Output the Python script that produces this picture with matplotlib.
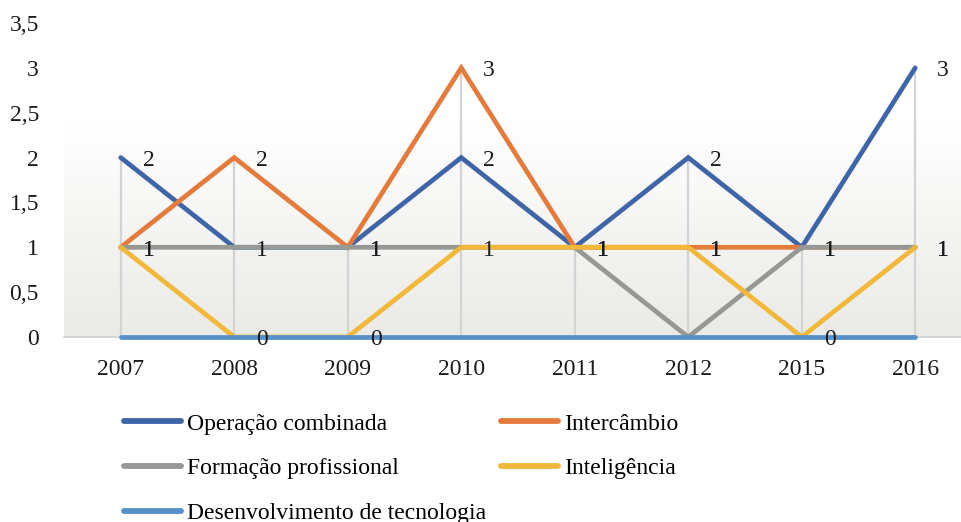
import numpy as np
import matplotlib
matplotlib.use("Agg")
import matplotlib.pyplot as pyplot
from matplotlib.lines import Line2D
from matplotlib.colors import LinearSegmentedColormap

pyplot.rcParams["font.family"] = ["Liberation Serif", "DejaVu Serif"]

# dados
anos = ["2007", "2008", "2009", "2010", "2011", "2012", "2015", "2016"]
operacao = [2, 1, 1, 2, 1, 2, 1, 3]
intercambio = [1, 2, 1, 3, 1, 1, 1, 1]
formacao = [1, 1, 1, 1, 1, 0, 1, 1]
inteligencia = [1, 0, 0, 1, 1, 1, 0, 1]
desenvolvimento = [0, 0, 0, 0, 0, 0, 0, 0]

series = [
    ("Operação combinada", operacao, "#3F65A9", True),
    ("Intercâmbio", intercambio, "#E57B3B", True),
    ("Formação profissional", formacao, "#959895", False),
    ("Inteligência", inteligencia, "#F2B83A", True),
    ("Desenvolvimento de tecnologia", desenvolvimento, "#5591C8", False),
]

FS = 17

fig = pyplot.figure(figsize=(9.61, 5.22), dpi=100)
ax = fig.add_axes([64 / 961, 1 - 337 / 522, 908 / 961, 314 / 522])

x = np.arange(len(anos))
ax.set_xlim(-0.5, len(anos) - 0.5)
ax.set_ylim(0, 3.5)

# fundo em degrade (area de plotagem)
cmap = LinearSegmentedColormap.from_list("fundo", ["#EAEAE7", "#FFFFFF"])
grad = np.linspace(0, 1, 256).reshape(-1, 1)
ax.imshow(grad, extent=[-0.5, len(anos) - 0.5, 0, 2.4], aspect="auto",
          cmap=cmap, origin="lower", zorder=0)

# linhas de queda
maximos = np.max([s[1] for s in series], axis=0)
ax.vlines(x, 0, maximos, color="#D3D3D3", linewidth=1.6, zorder=1)

handles = {}
for nome, vals, cor, rotulo in series:
    ln, = ax.plot(x, vals, color=cor, linewidth=3.4, solid_capstyle="round",
                  solid_joinstyle="miter", zorder=2, label=nome, clip_on=False)
    handles[nome] = ln
    if rotulo:
        for xi, v in zip(x, vals):
            ax.annotate(str(v), (xi, v), xytext=(20, -2), textcoords="offset points",
                        ha="center", va="center", fontsize=FS, color="#1a1a1a", zorder=5)

for s in ["top", "right", "left"]:
    ax.spines[s].set_visible(False)
ax.spines["bottom"].set_color("#D0D0D0")
ax.spines["bottom"].set_linewidth(1.2)
ax.spines["bottom"].set_zorder(1.5)

ax.set_xticks(x)
ax.set_xticklabels(anos)
yt = [0, 0.5, 1, 1.5, 2, 2.5, 3, 3.5]
ax.set_yticks(yt)
ax.set_yticklabels([("%g" % v).replace(".", ",") for v in yt])
ax.tick_params(axis="both", length=0, labelsize=FS, colors="#1a1a1a")
ax.tick_params(axis="y", pad=18)
ax.tick_params(axis="x", pad=16)

ordem = ["Operação combinada", "Formação profissional", "Desenvolvimento de tecnologia",
         "Intercâmbio", "Inteligência"]
leg_handles = [Line2D([0], [0], color=handles[n].get_color(), linewidth=4.2,
                      solid_capstyle="round") for n in ordem]
fig.legend(leg_handles, ordem, loc="upper left", bbox_to_anchor=(124 / 961, 1 - 413 / 522),
           ncol=2, frameon=False, fontsize=FS, handlelength=2.4, handletextpad=0.25,
           columnspacing=0.65, labelspacing=0.98, borderpad=0, borderaxespad=0)

fig.savefig("out.png", dpi=100)
